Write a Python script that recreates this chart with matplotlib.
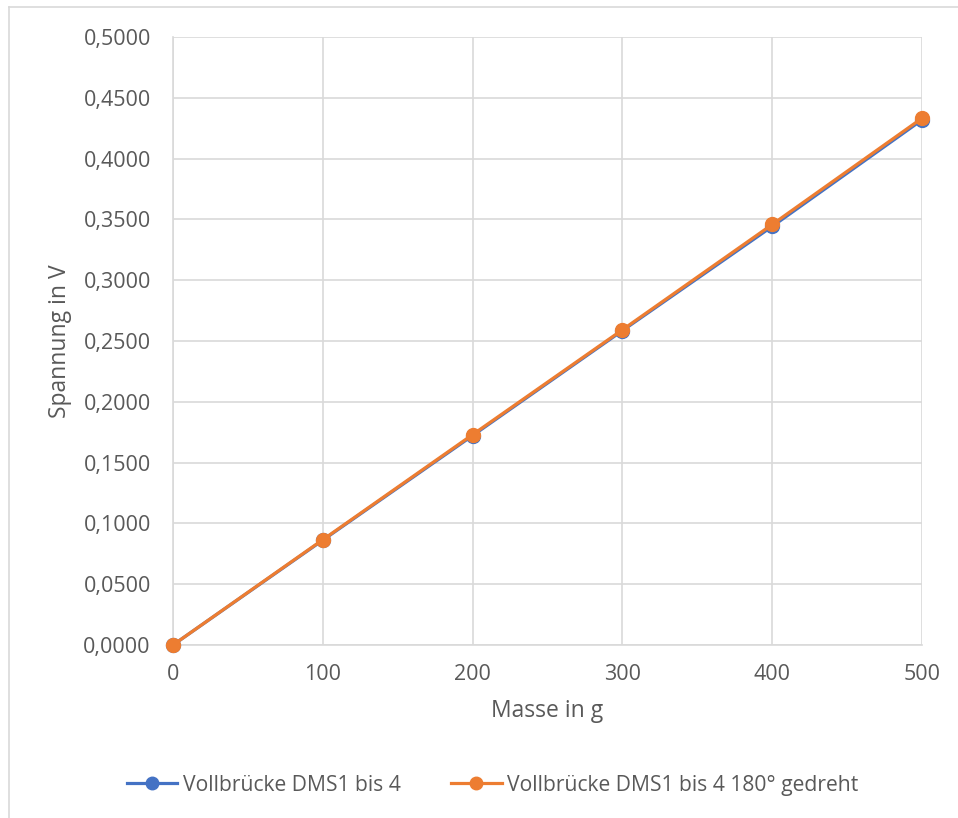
import matplotlib.pyplot as plt
from matplotlib.lines import Line2D
from matplotlib.ticker import FuncFormatter

plt.rcParams['font.family'] = ['Open Sans', 'DejaVu Sans']

masse = [0, 100, 200, 300, 400, 500]
voll = [0.0, 0.0862, 0.1722, 0.2585, 0.3442, 0.4318]
voll_180 = [0.0, 0.0866, 0.1730, 0.2592, 0.3458, 0.4332]

blue = '#4472C4'
orange = '#ED7D31'
grey = '#595959'

fig = plt.figure(figsize=(9.58, 8.18), dpi=100)
ax = fig.add_axes([0.1806, 0.2115, 0.7818, 0.7433])

ax.plot(masse, voll, '-o', color=blue, lw=2.3, markersize=10,
        label='Vollbrücke DMS1 bis 4', zorder=3, clip_on=False)
ax.plot(masse, voll_180, '-o', color=orange, lw=2.3, markersize=10,
        label='Vollbrücke DMS1 bis 4 180° gedreht', zorder=4, clip_on=False)

ax.set_xlim(0, 500)
ax.set_ylim(0, 0.5)
ax.set_xticks(range(0, 501, 100))
ax.set_yticks([i * 0.05 for i in range(11)])
ax.yaxis.set_major_formatter(FuncFormatter(lambda v, p: f'{v:.4f}'.replace('.', ',')))
ax.grid(True, color='#d9d9d9', lw=1.2)
ax.set_axisbelow(True)
for s in ['top', 'right']:
    ax.spines[s].set_visible(False)
ax.spines['left'].set_color('#d9d9d9')
ax.spines['bottom'].set_color('#d9d9d9')
ax.spines['left'].set_linewidth(1.2)
ax.spines['bottom'].set_linewidth(1.2)
ax.tick_params(length=0, labelsize=15.5, colors=grey)
ax.tick_params(axis='y', pad=16)
ax.tick_params(axis='x', pad=14)
for lab in ax.get_xticklabels() + ax.get_yticklabels():
    lab.set_color(grey)

ax.set_xlabel('Masse in g', fontsize=16.5, color=grey, labelpad=10)
ax.set_ylabel('Spannung in V', fontsize=16.5, color=grey, labelpad=8)

ax.legend(loc='center', bbox_to_anchor=(0.514, 0.04), bbox_transform=fig.transFigure,
          ncol=2, frameon=False, fontsize=15.2, labelcolor=grey, markerscale=0.9,
          handlelength=2.4, handletextpad=0.25, columnspacing=2.4)

# chart frame (left and top edges visible)
fig.add_artist(Line2D([0.0095, 0.0095], [0, 0.992], color='#d9d9d9', lw=1.2,
                      transform=fig.transFigure))
fig.add_artist(Line2D([0.0095, 1], [0.992, 0.992], color='#d9d9d9', lw=1.2,
                      transform=fig.transFigure))

fig.savefig('out.png', dpi=100)
